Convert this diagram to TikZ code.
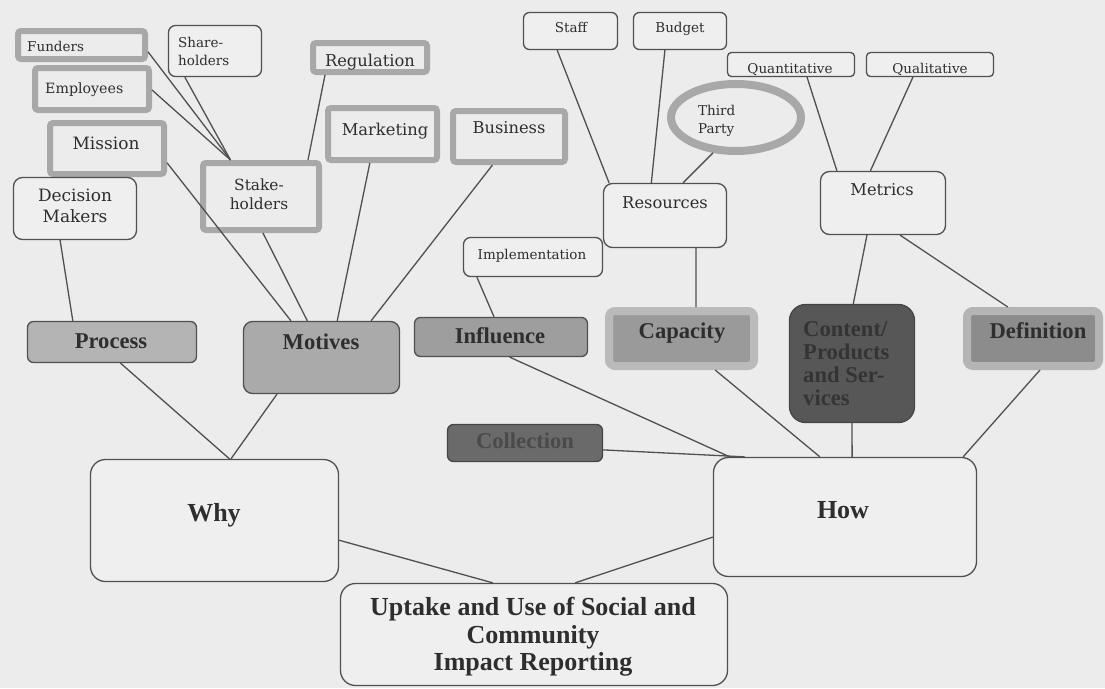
\documentclass[tikz,border=0pt]{standalone}
\usepackage{fontspec}
\setmainfont{Liberation Serif}
\newfontfamily\dvs{DejaVu Serif}
\usetikzlibrary{calc,shapes.geometric}
\definecolor{bgc}{HTML}{ECECEC}
\definecolor{boxc}{HTML}{EFEFEF}
\definecolor{linec}{HTML}{505050}
\definecolor{thickc}{HTML}{A8A8A8}
\definecolor{txtc}{HTML}{2E2E2E}
\definecolor{processc}{HTML}{B4B4B4}
\definecolor{motivesc}{HTML}{AAAAAA}
\definecolor{influencec}{HTML}{9E9E9E}
\definecolor{collectionc}{HTML}{6A6A6A}
\definecolor{collectiont}{HTML}{4A4A4A}
\definecolor{contentc}{HTML}{575757}
\definecolor{contentl}{HTML}{454545}
\definecolor{contentt}{HTML}{343434}
\definecolor{capc}{HTML}{9A9A9A}
\definecolor{capl}{HTML}{BABABA}
\definecolor{defc}{HTML}{8C8C8C}
\definecolor{defl}{HTML}{B4B4B4}
\begin{document}
\begin{tikzpicture}[x=1pt,y=-1pt,
  sz/.style 2 args={minimum width=#1pt, minimum height=#2pt},
  wbox/.style={draw=linec, line width=1.3pt, fill=boxc, rounded corners=7pt, inner sep=0pt},
  tbox/.style={draw=thickc, line width=6pt, fill=bgc, rounded corners=3pt, inner sep=0pt},
  gbox/.style={draw=linec, line width=1.3pt, rounded corners=6pt, inner sep=0pt},
  conn/.style={draw=linec, line width=1.3pt},
  txt/.style={inner sep=0pt, text=txtc},
  s13/.style={txt, font=\dvs\fontsize{13.5}{18}\selectfont},
  s14/.style={txt, font=\dvs\fontsize{14.2}{18}\selectfont},
  s155/.style={txt, font=\dvs\fontsize{15.4}{18.5}\selectfont},
  s16/.style={txt, font=\dvs\fontsize{16.3}{20}\selectfont},
  s17/.style={txt, font=\dvs\fontsize{17}{21}\selectfont},
  b22/.style={txt, font=\bfseries\fontsize{22.6}{23}\selectfont},
  b26/.style={txt, font=\bfseries\fontsize{26}{27.5}\selectfont}
]
\useasboundingbox (0,0) rectangle (1105,688);
\fill[bgc] (0,0) rectangle (1105,688);

% boxes
\node[tbox, sz={127}{28}] (funders) at (81.5,45) {};
\node[wbox, sz={93}{51}] (share) at (215,51) {};
\node[tbox, sz={114}{42}] (employees) at (92,89) {};
\node[tbox, sz={114}{51}] (mission) at (107,148.5) {};
\node[wbox, sz={123}{62}, rounded corners=9pt] (decision) at (75,208.5) {};
\node[tbox, sz={116}{67}] (stake) at (261,196.5) {};
\node[tbox, sz={114}{29}] (regulation) at (370,57.5) {};
\node[tbox, sz={109}{52}] (marketing) at (382.5,134) {};
\node[tbox, sz={112}{51}] (business) at (509,136.5) {};
\node[wbox, sz={94}{37}, rounded corners=6pt] (staff) at (570.5,31) {};
\node[wbox, sz={93}{37}, rounded corners=6pt] (budget) at (680,31) {};
\node[wbox, sz={127}{24}, rounded corners=4pt] (quant) at (791,64.5) {};
\node[wbox, sz={127}{24}, rounded corners=4pt] (qual) at (930,64.5) {};
\node[ellipse, draw=thickc, line width=8pt, fill=bgc, sz={130}{67}, inner sep=0pt] (third) at (736,117.5) {};
\node[wbox, sz={123}{64}, rounded corners=9pt] (resources) at (665,215.5) {};
\node[wbox, sz={125}{63}, rounded corners=9pt] (metrics) at (883,203) {};
\node[wbox, sz={139}{39}] (impl) at (533,257) {};
\node[gbox, fill=processc, sz={169}{41}] (process) at (112,342) {};
\node[gbox, fill=motivesc, sz={156}{72}, rounded corners=9pt] (motives) at (321.5,357.5) {};
\node[gbox, fill=influencec, sz={173}{39}] (influence) at (501,337) {};
\node[gbox, fill=collectionc, draw=contentl, sz={155}{37}] (collection) at (525,443) {};
\node[draw=contentl, fill=contentc, line width=1.3pt, rounded corners=16pt, sz={125}{118}, inner sep=0pt] (content) at (852,363.5) {};
\node[draw=capl, fill=capc, line width=8pt, rounded corners=6pt, sz={145}{55}, inner sep=0pt] (capacity) at (681.5,338.5) {};
\node[draw=defl, fill=defc, line width=8pt, rounded corners=6pt, sz={132}{55}, inner sep=0pt] (definition) at (1033,338.5) {};
\node[wbox, sz={248}{122}, rounded corners=15pt] (why) at (214.5,520.5) {};
\node[wbox, sz={263}{119}, rounded corners=15pt] (how) at (845,517) {};
\node[wbox, sz={387}{102}, rounded corners=15pt] (uptake) at (534,634.5) {};

% connectors
\coordinate (stakeL) at ($(stake.north west)!0.25!(stake.north east)$);
\draw[conn] ($(funders.north east)!0.7!(funders.south east)$) -- (stakeL);
\draw[conn] ($(share.south west)!0.18!(share.south east)$) -- (stakeL);
\draw[conn] ($(employees.north east)!0.52!(employees.south east)$) -- (stakeL);
\draw[conn] ($(regulation.south west)!0.125!(regulation.south east)$) -- ($(stake.north west)!0.885!(stake.north east)$);
\draw[conn] ($(mission.north east)!0.75!(mission.south east)$) -- ($(motives.north west)!0.306!(motives.north east)$);
\draw[conn] ($(stake.south west)!0.516!(stake.south east)$) -- ($(motives.north west)!0.41!(motives.north east)$);
\draw[conn] ($(marketing.south west)!0.39!(marketing.south east)$) -- ($(motives.north west)!0.6!(motives.north east)$);
\draw[conn] ($(business.south west)!0.36!(business.south east)$) -- ($(motives.north west)!0.815!(motives.north east)$);
\draw[conn] ($(decision.south west)!0.38!(decision.south east)$) -- ($(process.north west)!0.27!(process.north east)$);
\draw[conn] ($(process.south west)!0.55!(process.south east)$) -- ($(why.north west)!0.56!(why.north east)$);
\draw[conn] ($(motives.south west)!0.217!(motives.south east)$) -- ($(why.north west)!0.566!(why.north east)$);
\draw[conn] ($(staff.south west)!0.36!(staff.south east)$) -- ($(resources.north west)!0.05!(resources.north east)$);
\draw[conn] ($(budget.south west)!0.34!(budget.south east)$) -- ($(resources.north west)!0.39!(resources.north east)$);
\draw[conn] (third.-123) -- ($(resources.north west)!0.645!(resources.north east)$);
\draw[conn] ($(resources.south west)!0.75!(resources.south east)$) -- ($(capacity.north west)!0.595!(capacity.north east)$);
\draw[conn] ($(quant.south west)!0.625!(quant.south east)$) -- ($(metrics.north west)!0.135!(metrics.north east)$);
\draw[conn] ($(qual.south west)!0.367!(qual.south east)$) -- ($(metrics.north west)!0.4!(metrics.north east)$);
\draw[conn] ($(metrics.south west)!0.373!(metrics.south east)$) -- ($(content.north west)!0.51!(content.north east)$);
\draw[conn] ($(metrics.south west)!0.635!(metrics.south east)$) -- ($(definition.north west)!0.32!(definition.north east)$);
\draw[conn] ($(impl.south west)!0.1!(impl.south east)$) -- ($(influence.north west)!0.46!(influence.north east)$);
\draw[conn] ($(influence.south west)!0.55!(influence.south east)$) -- ($(how.north west)!0.064!(how.north east)$);
\draw[conn] ($(collection.north east)!0.68!(collection.south east)$) -- ($(how.north west)!0.12!(how.north east)$);
\draw[conn] ($(capacity.south west)!0.72!(capacity.south east)$) -- ($(how.north west)!0.405!(how.north east)$);
\draw[conn] ($(content.south west)!0.5!(content.south east)$) -- ($(how.north west)!0.527!(how.north east)$);
\draw[conn] ($(definition.south west)!0.55!(definition.south east)$) -- ($(how.north west)!0.947!(how.north east)$);
\draw[conn] ($(why.north east)!0.66!(why.south east)$) -- ($(uptake.north west)!0.394!(uptake.north east)$);
\draw[conn] ($(how.north west)!0.667!(how.south west)$) -- ($(uptake.north west)!0.606!(uptake.north east)$);

% texts
\node[s13, anchor=mid west] (funders-t) at (27,49.5) {Funders};
\node[s13, anchor=west, align=left] (share-t) at (178,51.5) {Share-\\holders};
\node[s14, anchor=mid west] (employees-t) at (45,91.5) {Employees};
\node[s17, anchor=mid] (mission-t) at (106,147.5) {Mission};
\node[s17, align=center] (decision-t) at (75,205.5) {Decision\\Makers};
\node[s155, align=center] (stake-t) at (259,194.5) {Stake-\\holders};
\node[s16, anchor=mid] (regulation-t) at (370,64.5) {Regulation};
\node[s16, anchor=mid] (marketing-t) at (385,133.5) {Marketing};
\node[s16, anchor=mid] (business-t) at (509,131.5) {Business};
\node[s13, anchor=mid] (staff-t) at (571,30) {Staff};
\node[s13, anchor=mid] (budget-t) at (680,30) {Budget};
\node[s13, anchor=mid] (quant-t) at (790,71) {Quantitative};
\node[s13, anchor=mid] (qual-t) at (930,71) {Qualitative};
\node[s13, anchor=west, align=left] (third-t) at (698,121) {Third\\Party};
\node[s16, anchor=mid] (resources-t) at (665,206.5) {Resources};
\node[s16, anchor=mid] (metrics-t) at (882,193.5) {Metrics};
\node[s13, anchor=mid] (impl-t) at (532,257.5) {Implementation};
\node[b22, anchor=mid] (process-t) at (111,346.5) {Process};
\node[b22, anchor=mid] (motives-t) at (321,347.5) {Motives};
\node[b22, anchor=mid] (influence-t) at (500,341.5) {Influence};
\node[b22, anchor=mid] (capacity-t) at (682,336.5) {Capacity};
\node[b22, anchor=mid] (definition-t) at (1038,336.5) {Definition};
\node[b22, anchor=mid, text=collectiont] (collection-t) at (525,446.5) {Collection};
\node[b22, anchor=west, align=left, text=contentt] (content-t) at (803,364) {Content/\\Products\\and Ser-\\vices};
\node[b26, anchor=mid] (why-t) at (214,519) {Why};
\node[b26, anchor=mid] (how-t) at (843,516) {How};
\node[b26, align=center] (uptake-t) at (533,637) {Uptake and Use of Social and\\Community\\Impact Reporting};
\end{tikzpicture}
\end{document}
